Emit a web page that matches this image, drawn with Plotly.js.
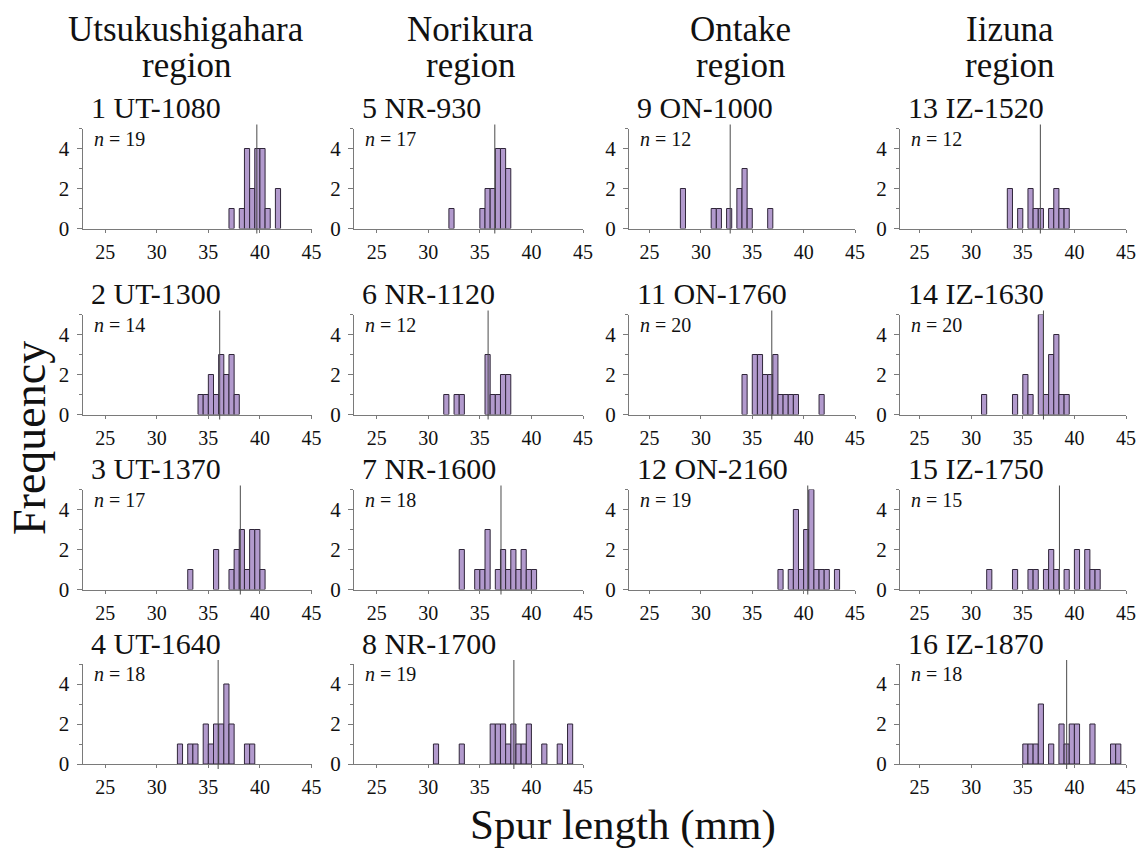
<!DOCTYPE html>
<html><head><meta charset="utf-8">
<script src="https://cdn.plot.ly/plotly-3.0.1.min.js"></script>
<style>html,body{margin:0;padding:0;background:#fff}#chart{width:1145px;height:852px}</style>
</head><body><div id="chart"></div>
<script>
// ---------------- data ----------------
const BIN_WIDTH = 0.5;
const regionNames = ['Utsukushigahara', 'Norikura', 'Ontake', 'Iizuna'];
const regionWord = 'region';
const xTickVals = [25, 30, 35, 40, 45];
const yTickVals = [0, 2, 4];
const yMinorTickVals = [1, 3, 5];
const xTitle = 'Spur length (mm)';
const yTitle = 'Frequency';

const panelLabels = ['1 UT-1080', '2 UT-1300', '3 UT-1370', '4 UT-1640',
  '5 NR-930', '6 NR-1120', '7 NR-1600', '8 NR-1700',
  '9 ON-1000', '11 ON-1760', '12 ON-2160',
  '13 IZ-1520', '14 IZ-1630', '15 IZ-1750', '16 IZ-1870'];
const sampleSizes = [19, 14, 17, 18, 17, 12, 18, 19, 12, 20, 19, 12, 20, 15, 18];
const meanLengths = [39.7, 36.1, 38.1, 35.95, 36.45, 35.8, 37.05, 38.3, 32.85, 36.9, 40.4, 36.7, 37.0, 38.55, 39.25];

// histogram bin centres (mm) and counts per population
const ut1080Bins = [37.25, 38.25, 38.75, 39.25, 39.75, 40.25, 40.75, 41.75];
const ut1080Counts = [1, 1, 4, 2, 4, 4, 1, 2];
const ut1300Bins = [34.25, 34.75, 35.25, 35.75, 36.25, 36.75, 37.25, 37.75];
const ut1300Counts = [1, 1, 2, 1, 3, 2, 3, 1];
const ut1370Bins = [33.25, 35.75, 37.25, 37.75, 38.25, 38.75, 39.25, 39.75, 40.25];
const ut1370Counts = [1, 2, 1, 2, 3, 1, 3, 3, 1];
const ut1640Bins = [32.25, 33.25, 33.75, 34.75, 35.25, 35.75, 36.25, 36.75, 37.25, 38.75, 39.25];
const ut1640Counts = [1, 1, 1, 2, 1, 2, 2, 4, 2, 1, 1];
const nr930Bins = [32.25, 35.25, 35.75, 36.25, 36.75, 37.25, 37.75];
const nr930Counts = [1, 1, 2, 2, 4, 4, 3];
const nr1120Bins = [31.75, 32.75, 33.25, 35.75, 36.25, 36.75, 37.25, 37.75];
const nr1120Counts = [1, 1, 1, 3, 1, 1, 2, 2];
const nr1600Bins = [33.25, 34.75, 35.25, 35.75, 36.75, 37.25, 37.75, 38.25, 38.75, 39.25, 39.75, 40.25];
const nr1600Counts = [2, 1, 1, 3, 1, 2, 1, 2, 1, 2, 1, 1];
const nr1700Bins = [30.75, 33.25, 36.25, 36.75, 37.25, 37.75, 38.25, 38.75, 39.25, 39.75, 41.25, 42.75, 43.75];
const nr1700Counts = [1, 1, 2, 2, 2, 1, 2, 1, 1, 2, 1, 1, 2];
const on1000Bins = [28.25, 31.25, 31.75, 32.75, 33.75, 34.25, 34.75, 36.75];
const on1000Counts = [2, 1, 1, 1, 2, 3, 1, 1];
const on1760Bins = [34.25, 35.25, 35.75, 36.25, 36.75, 37.25, 37.75, 38.25, 38.75, 39.25, 41.75];
const on1760Counts = [2, 3, 3, 2, 2, 3, 1, 1, 1, 1, 1];
const on2160Bins = [37.75, 38.75, 39.25, 39.75, 40.25, 40.75, 41.25, 41.75, 42.25, 43.25];
const on2160Counts = [1, 1, 4, 1, 3, 5, 1, 1, 1, 1];
const iz1520Bins = [33.75, 34.75, 35.75, 36.25, 36.75, 37.75, 38.25, 38.75, 39.25];
const iz1520Counts = [2, 1, 2, 1, 1, 1, 2, 1, 1];
const iz1630Bins = [31.25, 34.25, 35.25, 35.75, 36.75, 37.25, 37.75, 38.25, 38.75, 39.25];
const iz1630Counts = [1, 1, 2, 1, 5, 1, 3, 4, 1, 1];
const iz1750Bins = [31.75, 34.25, 35.75, 36.25, 37.25, 37.75, 38.25, 39.25, 40.25, 41.25, 41.75, 42.25];
const iz1750Counts = [1, 1, 1, 1, 1, 2, 1, 1, 2, 2, 1, 1];
const iz1870Bins = [35.25, 35.75, 36.25, 36.75, 37.75, 38.75, 39.25, 39.75, 40.25, 41.75, 43.75, 44.25];
const iz1870Counts = [1, 1, 1, 3, 1, 2, 1, 2, 2, 2, 1, 1];

const panelBins = [ut1080Bins, ut1300Bins, ut1370Bins, ut1640Bins, nr930Bins, nr1120Bins, nr1600Bins, nr1700Bins,
  on1000Bins, on1760Bins, on2160Bins, iz1520Bins, iz1630Bins, iz1750Bins, iz1870Bins];
const panelCounts = [ut1080Counts, ut1300Counts, ut1370Counts, ut1640Counts, nr930Counts, nr1120Counts, nr1600Counts, nr1700Counts,
  on1000Counts, on1760Counts, on2160Counts, iz1520Counts, iz1630Counts, iz1750Counts, iz1870Counts];

// ---------------- layout ----------------
const W = 1145, H = 852;
const FONT = 'Liberation Serif, Times New Roman, serif';
const panelRow = [0, 1, 2, 3, 0, 1, 2, 3, 0, 1, 2, 0, 1, 2, 3];
const panelCol = [0, 0, 0, 0, 1, 1, 1, 1, 2, 2, 2, 3, 3, 3, 3];
const colPx = [[82.5, 311.5], [354, 583], [629, 855], [900, 1126]];
const colRangeStart = [22.8, 22.8, 23.0, 23.1];
const rowBasePx = [228.5, 414.5, 589.5, 764];
const plotHpx = 100;
const headerCx = [186, 470, 740, 1010];

const barFill = 'rgb(178,154,205)';
const barEdge = 'rgb(48,38,58)';
const axisCol = '#7a7a7a';
const txtCol = '#111';

const traces = [];
const layout = {
  width: W, height: H,
  margin: {l: 0, r: 0, t: 0, b: 0},
  paper_bgcolor: '#fff', plot_bgcolor: 'rgba(0,0,0,0)',
  showlegend: false,
  font: {family: FONT, color: txtCol},
  annotations: [], shapes: []
};

panelLabels.forEach((label, i) => {
  const k = i + 1;
  const xs = k === 1 ? '' : String(k);
  const r = panelRow[i], c = panelCol[i];
  const xd = [colPx[c][0] / W, colPx[c][1] / W];
  const yd = [1 - rowBasePx[r] / H, 1 - (rowBasePx[r] - plotHpx) / H];
  const yMax = 5;
  traces.push({
    type: 'bar', x: panelBins[i], y: panelCounts[i], width: BIN_WIDTH,
    xaxis: 'x' + xs, yaxis: 'y' + xs,
    marker: {color: barFill, line: {color: barEdge, width: 1}},
    hoverinfo: 'skip'
  });
  layout['xaxis' + xs] = {
    domain: xd, anchor: 'y' + xs, range: [colRangeStart[c], 45],
    showgrid: false, zeroline: false, showline: true, linecolor: axisCol, linewidth: 1,
    tickmode: 'array', tickvals: xTickVals, ticks: 'outside', ticklen: 3, tickcolor: axisCol,
    ticklabelstandoff: 2,
    tickfont: {family: FONT, size: 20, color: txtCol}, fixedrange: true
  };
  layout['yaxis' + xs] = {
    domain: yd, anchor: 'x' + xs, range: [0, yMax],
    showgrid: false, zeroline: false, showline: true, linecolor: axisCol, linewidth: 1,
    tickmode: 'array', tickvals: yTickVals, ticks: 'outside', ticklen: 5, tickcolor: axisCol,
    minor: {tickvals: yMinorTickVals, ticks: 'outside', ticklen: 3, tickcolor: axisCol, showgrid: false},
    ticklabelstandoff: 3,
    tickfont: {family: FONT, size: 21, color: txtCol}, fixedrange: true
  };
  // mean line (extends slightly beyond the axis range)
  const toPaper = v => yd[0] + (v / yMax) * (yd[1] - yd[0]);
  layout.shapes.push({
    type: 'line', xref: 'x' + xs, yref: 'paper',
    x0: meanLengths[i], x1: meanLengths[i], y0: toPaper(-0.25), y1: toPaper(5.2),
    line: {color: '#4a4a4a', width: 1}
  });
  layout.annotations.push({
    xref: 'x' + xs + ' domain', yref: 'y' + xs + ' domain', x: 0, y: 1,
    xshift: 6, yshift: 21, xanchor: 'left', yanchor: 'middle', showarrow: false,
    text: label, font: {family: FONT, size: 30, color: txtCol}
  });
  layout.annotations.push({
    xref: 'x' + xs + ' domain', yref: 'y' + xs + ' domain', x: 0, y: 1,
    xshift: 9, yshift: -10, xanchor: 'left', yanchor: 'middle', showarrow: false,
    text: '<i>n</i> = ' + sampleSizes[i], font: {family: FONT, size: 20, color: txtCol}
  });
});

regionNames.forEach((name, j) => {
  layout.annotations.push({
    xref: 'paper', yref: 'paper', x: headerCx[j] / W, y: 1 - 30 / H, xanchor: 'center', yanchor: 'middle',
    showarrow: false, text: name, font: {family: FONT, size: 35, color: txtCol}
  });
  layout.annotations.push({
    xref: 'paper', yref: 'paper', x: headerCx[j] / W, y: 1 - 65 / H, xanchor: 'center', yanchor: 'middle',
    showarrow: false, text: regionWord, font: {family: FONT, size: 35, color: txtCol}
  });
});

layout.annotations.push({
  xref: 'paper', yref: 'paper', x: 623 / W, y: 1 - 825 / H, xanchor: 'center', yanchor: 'middle',
  showarrow: false, text: xTitle, font: {family: FONT, size: 43, color: txtCol}
});
layout.annotations.push({
  xref: 'paper', yref: 'paper', x: 29 / W, y: 1 - 438 / H, xanchor: 'center', yanchor: 'middle',
  showarrow: false, textangle: -90, text: yTitle, font: {family: FONT, size: 46, color: txtCol}
});

Plotly.newPlot('chart', traces, layout, {staticPlot: true, displayModeBar: false});
</script></body></html>
